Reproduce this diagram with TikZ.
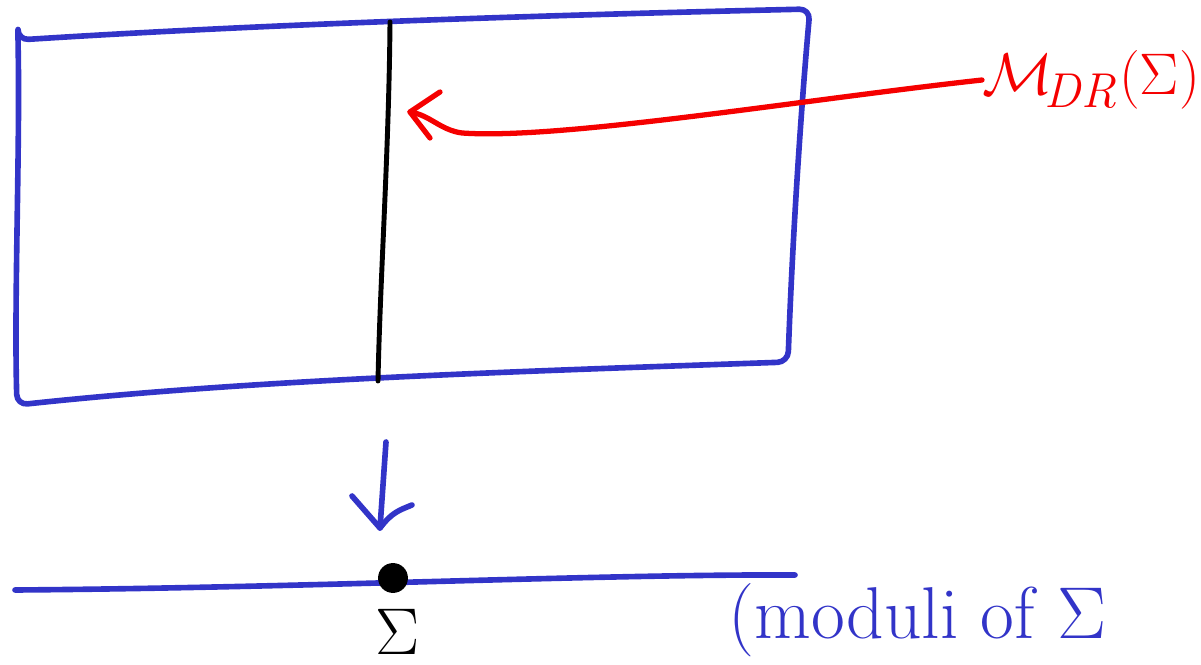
\documentclass[tikz,border=0pt]{standalone}
\usepackage{amsmath}
\definecolor{penblue}{RGB}{50,52,200}
\definecolor{penred}{RGB}{245,0,0}
\tikzset{
  bluepen/.style={draw=penblue,line width=3.2pt,line cap=round,line join=round},
  redpen/.style={draw=penred,line width=3pt,line cap=round,line join=round},
  blackpen/.style={draw=black,line width=2.8pt,line cap=round,line join=round},
  lbl/.style={inner sep=0pt,font=\Huge,scale=1.68}
}
\begin{document}
\begin{tikzpicture}[x=0.02cm,y=-0.02cm]
\useasboundingbox (0,0) rectangle (1201,665);
% rectangle corners
\coordinate (tl) at (18,40);
\coordinate (tr) at (810,9);
\coordinate (br) at (788,362);
\coordinate (bl) at (17,405);
\draw[bluepen,rounded corners=6pt] (tl) .. controls (300,22) and (600,14) .. (tr)
  .. controls (800,120) and (792,250) .. (br)
  .. controls (500,372) and (250,380) .. (bl)
  .. controls (14,300) and (20,150) .. (tl) -- cycle;
% fibre
\coordinate (ft) at (390,22);
\coordinate (fb) at (378,381);
\draw[blackpen] (ft) .. controls (389,150) and (380,280) .. (fb);
% red label and arrow
\node[lbl,text=penred,anchor=west,scale=0.8] (mdr) at (982,80) {$\mathcal{M}_{\!\mathit{DR}}(\Sigma)$};
\coordinate (tip) at (410,112);
\draw[redpen] (mdr.west) .. controls (800,100) and (560,140) .. (462,133)
  .. controls (440,130) and (430,115) .. (tip);
\coordinate (ha) at (440,92);
\coordinate (hb) at (430,138);
\draw[redpen] (ha) -- (tip) -- (hb);
% projection arrow
\coordinate (as) at (386,442);
\coordinate (ae) at (380,528);
\coordinate (al) at (352,496);
\coordinate (ar) at (412,505);
\draw[bluepen] (as) -- (ae);
\draw[bluepen] (al) -- (ae) .. controls (392,512) and (400,510) .. (ar);
% base line
\coordinate (b1) at (15,590);
\coordinate (b2) at (795,575);
\draw[bluepen] (b1) .. controls (300,588) and (600,574) .. (b2);
\node[circle,fill=black,inner sep=0pt,minimum size=17pt] (pt) at (393,578) {};
\node[lbl,scale=0.9] (sig) at (398,632) {$\Sigma$};
\node[lbl,text=penblue,anchor=west] (mod) at (728,620) {(moduli of $\Sigma$};
\end{tikzpicture}
\end{document}
